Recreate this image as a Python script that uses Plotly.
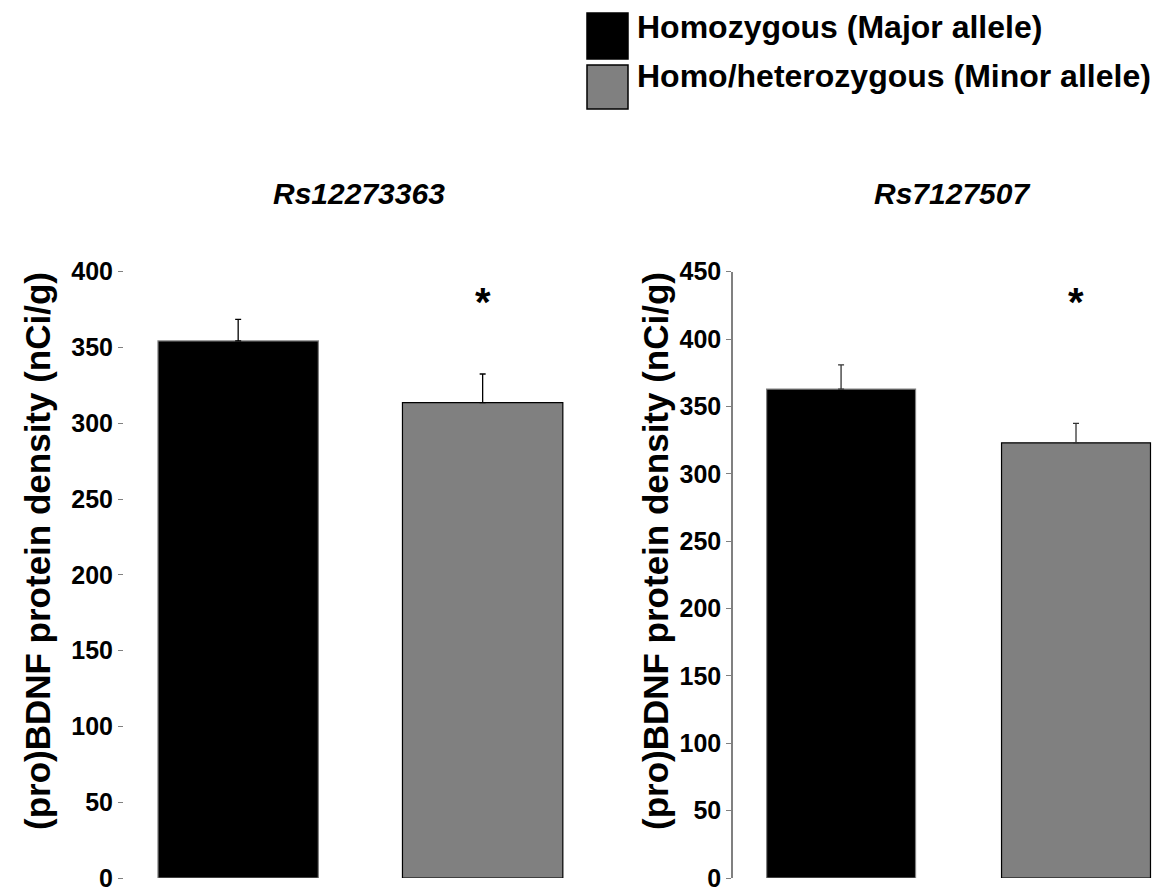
import plotly.graph_objects as go

W, H = 1162, 890
OFF = 8  # page body margin offset of the rendered figure

# ---- data ----
categories = ["Major", "Minor"]
series_names = ["Homozygous (Major allele)", "Homo/heterozygous (Minor allele)"]
panel_titles = ["Rs12273363", "Rs7127507"]
rs1_means = [354.3, 313.6]
rs1_errs = [14.3, 18.9]
rs2_means = [362.9, 323.0]
rs2_errs = [18.0, 14.4]
rs1_ticks = [0, 50, 100, 150, 200, 250, 300, 350, 400]
rs2_ticks = [0, 50, 100, 150, 200, 250, 300, 350, 400, 450]
y_title = "(pro)BDNF protein density (nCi/g)"

bar_colors = ["#000000", "#808080"]
bar_lines = ["#808080", "#000000"]

def px_x(p):
    return (p - OFF) / W

def px_y(p):
    return 1 - (p - OFF) / H

fig = go.Figure()

fig.add_trace(go.Bar(
    x=[0, 1], y=rs1_means, width=0.656,
    marker=dict(color=bar_colors, line=dict(color=bar_lines, width=1.2)),
    error_y=dict(type="data", array=rs1_errs, arrayminus=[0, 0], symmetric=False,
                 color="#000000", thickness=1.3, width=3),
    xaxis="x", yaxis="y", showlegend=False, hoverinfo="skip"))

fig.add_trace(go.Bar(
    x=[0, 1], y=rs2_means, width=0.634,
    marker=dict(color=bar_colors, line=dict(color=bar_lines, width=1.2)),
    error_y=dict(type="data", array=rs2_errs, arrayminus=[0, 0], symmetric=False,
                 color="#333333", thickness=1.3, width=3),
    xaxis="x2", yaxis="y2", showlegend=False, hoverinfo="skip"))

ydom = [px_y(878), px_y(271.7)]
tickfont = dict(family="Liberation Sans", size=25, color="#000000", weight="bold")

fig.update_layout(
    width=W, height=H,
    margin=dict(l=0, r=0, t=0, b=0, autoexpand=False),
    paper_bgcolor="white", plot_bgcolor="white",
    xaxis=dict(domain=[px_x(124), px_x(600)], range=[-0.467, 1.48], automargin=False,
               showticklabels=False, showgrid=False, zeroline=False, showline=False,
               ticks="", fixedrange=True),
    yaxis=dict(domain=ydom, range=[0, 400], tickvals=rs1_ticks, automargin=False,
               showgrid=False, zeroline=False, showline=False,
               ticks="outside", ticklen=5, tickcolor="#808080", tickwidth=1,
               tickfont=tickfont, anchor="x"),
    xaxis2=dict(domain=[px_x(733), px_x(1162)], range=[-0.46, 1.366], anchor="y2",
                automargin=False,
                showticklabels=False, showgrid=False, zeroline=False, showline=False,
                ticks="", fixedrange=True),
    yaxis2=dict(domain=ydom, range=[0, 450], tickvals=rs2_ticks, anchor="x2", automargin=False,
                showgrid=False, zeroline=False, showline=True, linecolor="#808080",
                linewidth=1.5,
                ticks="outside", ticklen=5, tickcolor="#808080", tickwidth=1,
                tickfont=tickfont),
)

annotations = []
# panel titles
for txt, xc in zip(panel_titles, [359, 952]):
    annotations.append(dict(text="<b><i>" + txt + "</i></b>", x=px_x(xc), y=px_y(193.5),
                            xref="paper", yref="paper", xanchor="center", yanchor="middle",
                            showarrow=False,
                            font=dict(family="Liberation Sans", size=30, color="#000000")))
# y-axis titles
for xc in [37, 655]:
    annotations.append(dict(text="<b>" + y_title + "</b>", x=px_x(xc), y=px_y(551),
                            xref="paper", yref="paper", xanchor="center", yanchor="middle",
                            textangle=-90, showarrow=False,
                            font=dict(family="Liberation Sans", size=35, color="#000000")))
# significance asterisks
for xa in ["x", "x2"]:
    annotations.append(dict(text="<b>*</b>", x=1, y=px_y(278), xref=xa, yref="paper",
                            xanchor="center", yanchor="top", showarrow=False,
                            font=dict(family="Liberation Sans", size=40, color="#000000")))
# legend text
for i, name in enumerate(series_names):
    annotations.append(dict(text="<b>" + name + "</b>", x=px_x(635), y=px_y(27 + 49.5 * i),
                            xref="paper", yref="paper", xanchor="left", yanchor="middle",
                            showarrow=False,
                            font=dict(family="Liberation Sans", size=32, color="#000000")))

shapes = []
box_tops = [13, 65]
box_bottoms = [59, 109]
for i in range(2):
    shapes.append(dict(type="rect", xref="paper", yref="paper",
                       x0=px_x(587), x1=px_x(628), y0=px_y(box_tops[i]), y1=px_y(box_bottoms[i]),
                       fillcolor=bar_colors[i], line=dict(color="#000000", width=1.5)))

fig.update_layout(annotations=annotations, shapes=shapes)

fig.write_html("out.html")
